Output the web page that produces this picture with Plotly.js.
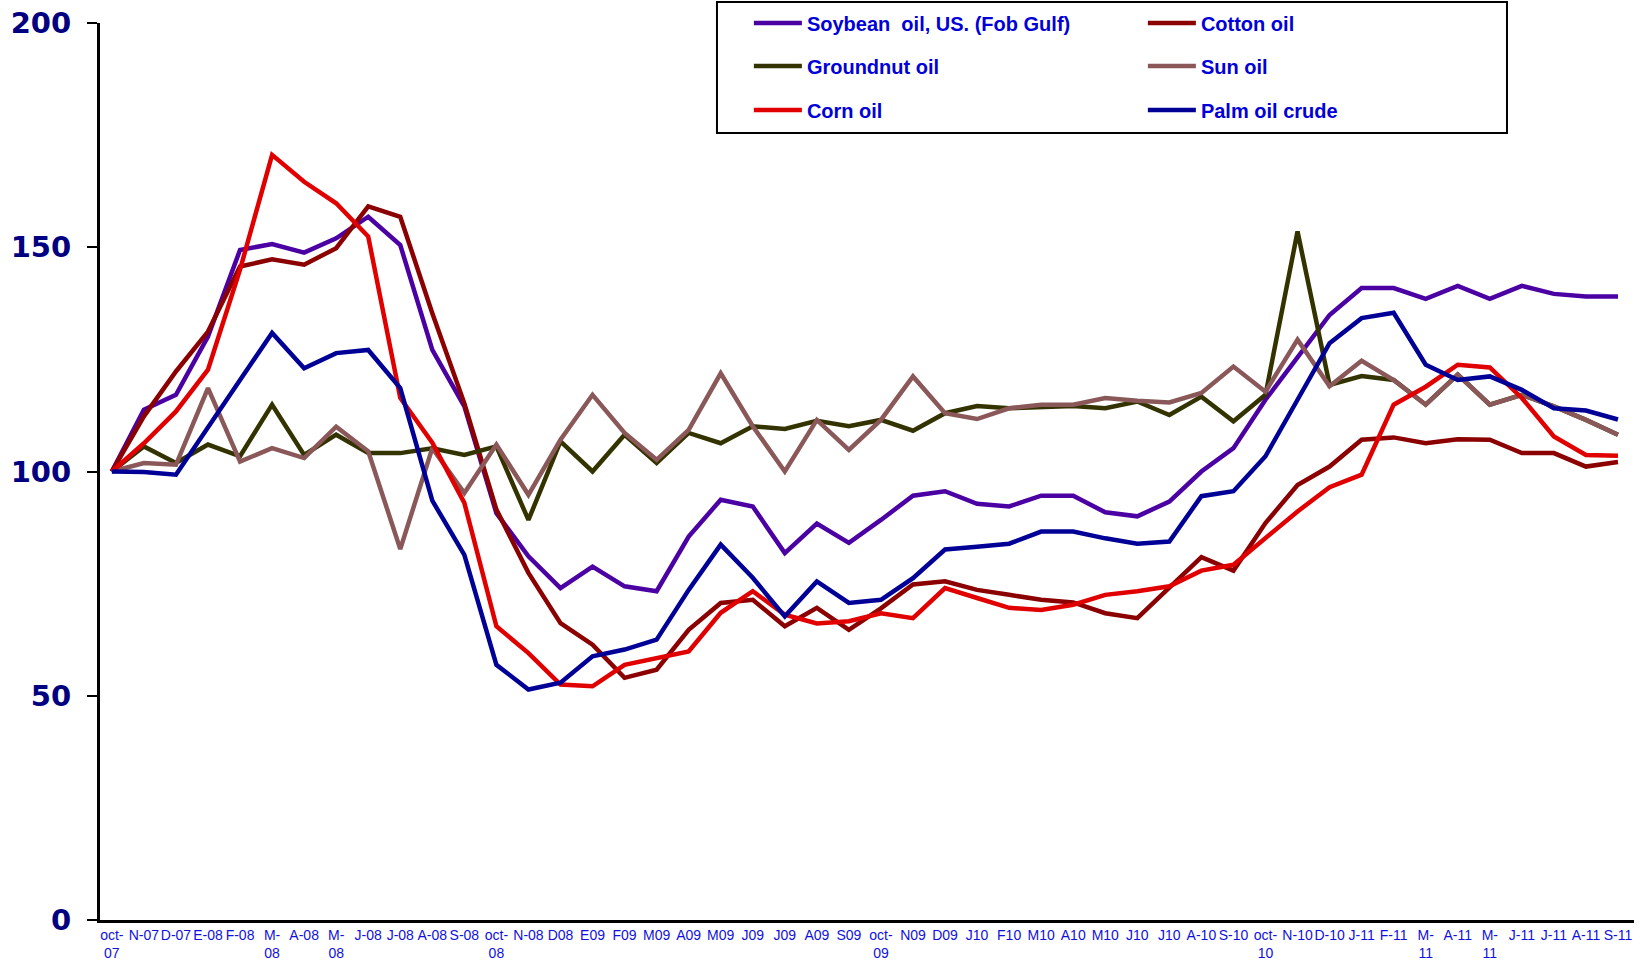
<!DOCTYPE html>
<html>
<head>
<meta charset="utf-8">
<script src="https://cdn.plot.ly/plotly-3.0.1.min.js"></script>
<style>
  html, body { margin: 0; padding: 0; background: #ffffff; }
  #chart { width: 1644px; height: 960px; }
</style>
</head>
<body>
<div id="chart"></div>
<script>
// Month labels (Oct 2007 – Sep 2011), as printed on the axis
const monthLabels = [
  "oct-<br>07", "N-07", "D-07", "E-08", "F-08", "M-<br>08", "A-08", "M-<br>08",
  "J-08", "J-08", "A-08", "S-08", "oct-<br>08", "N-08", "D08", "E09",
  "F09", "M09", "A09", "M09", "J09", "J09", "A09", "S09",
  "oct-<br>09", "N09", "D09", "J10", "F10", "M10", "A10", "M10",
  "J10", "J10", "A-10", "S-10", "oct-<br>10", "N-10", "D-10", "J-11",
  "F-11", "M-<br>11", "A-11", "M-<br>11", "J-11", "J-11", "A-11", "S-11"
];

const soybean = [100, 113.8, 117.1, 130.1, 149.4, 150.7, 148.8, 152, 156.8, 150.5, 127.1, 114.5,
  90.7, 81.1, 74, 78.8, 74.4, 73.3, 85.5, 93.7, 92.2, 81.8, 88.4, 84.1,
  89.2, 94.6, 95.6, 92.8, 92.2, 94.6, 94.6, 90.9, 90, 93.3, 100, 105.2,
  116, 125.6, 134.9, 140.9, 140.9, 138.5, 141.4, 138.5, 141.4, 139.6, 139, 139];

const cotton = [100, 112.3, 122.3, 131.2, 145.7, 147.3, 146.1, 149.8, 159.1, 156.8, 135.3, 115.2,
  91.5, 77.4, 66.2, 61.4, 54, 55.8, 64.7, 70.7, 71.4, 65.5, 69.6, 64.7,
  69.5, 74.8, 75.5, 73.6, 72.5, 71.4, 70.8, 68.4, 67.3, 74, 80.9, 77.9,
  88.5, 97, 101.1, 107.1, 107.6, 106.3, 107.2, 107.1, 104.1, 104.1, 101.1, 102.1];

const groundnut = [100, 105.6, 101.9, 106, 103.4, 114.9, 103.7, 108.2, 104.1, 104.1, 105.2, 103.7,
  105.6, 89.2, 106.7, 100, 108.2, 101.9, 108.6, 106.3, 110.1, 109.5, 111.3, 110.1,
  111.5, 109.1, 113, 114.6, 114.1, 114.3, 114.6, 114.1, 115.6, 112.6, 116.7, 111.2,
  117.1, 153.5, 119.3, 121.3, 120.4, 114.9, 121.6, 114.9, 117.1, 114.5, 111.5, 108.2];

const sunOil = [100, 101.9, 101.5, 118.6, 102.2, 105.2, 103, 110, 104.5, 82.7, 105.2, 95.2,
  106, 94.8, 107.1, 117.1, 108.6, 102.6, 109.3, 121.9, 110.1, 100, 111.5, 104.8,
  111.5, 121.2, 113, 111.7, 114.1, 114.9, 114.9, 116.4, 115.8, 115.4, 117.5, 123.4,
  117.8, 129.4, 119, 124.7, 120.4, 114.9, 121.6, 114.9, 117.1, 114.5, 111.5, 108.2];

const cornOil = [100, 106.3, 113.4, 122.7, 145, 170.6, 164.6, 159.8, 152.4, 116.4, 106.4, 93,
  65.5, 59.5, 52.5, 52.1, 56.9, 58.4, 59.9, 68.5, 73.3, 68.1, 66.1, 66.6,
  68.4, 67.3, 74, 71.8, 69.6, 69.1, 70.3, 72.5, 73.3, 74.4, 77.9, 79.2,
  85, 91.1, 96.5, 99.3, 114.9, 118.9, 123.8, 123.2, 116.4, 107.8, 103.7, 103.5];

const palmOil = [100, 99.9, 99.3, 110, 120.4, 130.9, 123, 126.4, 127.1, 118.6, 93.5, 81.4,
  56.9, 51.4, 52.9, 58.8, 60.3, 62.5, 73.6, 83.7, 76.3, 67.7, 75.5, 70.7,
  71.4, 76.2, 82.6, 83.2, 83.9, 86.6, 86.6, 85.1, 83.9, 84.4, 94.5, 95.6,
  103.4, 116, 128.6, 134.2, 135.4, 123.8, 120.4, 121.2, 118.2, 114.1, 113.6, 111.6];

const seriesNames = ["Soybean  oil, US. (Fob Gulf)", "Cotton oil", "Groundnut oil", "Sun oil", "Corn oil", "Palm oil crude"];
const seriesValues = [soybean, cotton, groundnut, sunOil, cornOil, palmOil];
const seriesColors = ["#4B00A3", "#8B0000", "#333300", "#8A5858", "#E00000", "#000096"];
const seriesLegends = ["legend", "legend", "legend2", "legend2", "legend3", "legend3"];

const xIdx = monthLabels.map((_, i) => i);

const traces = seriesValues.map((vals, k) => ({
  type: "scatter",
  mode: "lines",
  x: xIdx,
  y: vals,
  name: seriesNames[k],
  legend: seriesLegends[k],
  line: { color: seriesColors[k], width: 4.5 },
  hoverinfo: "x+y+name"
}));

const legendFont = { family: "Liberation Sans, Arial, sans-serif", size: 20, color: "#0000D8", weight: "bold" };
function legendCfg(y) {
  return {
    orientation: "h",
    x: 0.423, xanchor: "left",
    y: y, yanchor: "middle",
    entrywidth: 331, entrywidthmode: "pixels",
    itemwidth: 48,
    bgcolor: "rgba(0,0,0,0)",
    borderwidth: 0,
    font: legendFont,
    traceorder: "normal",
    itemclick: false, itemdoubleclick: false
  };
}

const layout = {
  width: 1644,
  height: 960,
  paper_bgcolor: "#ffffff",
  plot_bgcolor: "#ffffff",
  margin: { l: 100, r: 10, t: 23, b: 40, autoexpand: false },
  showlegend: true,
  legend: legendCfg(1.0),
  legend2: legendCfg(0.952),
  legend3: legendCfg(0.903),
  xaxis: {
    range: [-0.37, 47.5],
    tickmode: "array",
    tickvals: xIdx,
    ticktext: monthLabels,
    tickangle: 0,
    showgrid: false,
    zeroline: false,
    showline: true,
    linecolor: "#000000",
    linewidth: 3,
    ticks: "",
    tickfont: { family: "Liberation Sans, Arial, sans-serif", size: 14, color: "#1010E0" }
  },
  yaxis: {
    range: [0, 200],
    tickmode: "linear",
    tick0: 0,
    dtick: 50,
    showgrid: false,
    zeroline: false,
    showline: true,
    linecolor: "#000000",
    linewidth: 3,
    ticks: "outside",
    ticklen: 10,
    tickwidth: 2,
    tickcolor: "#000000",
    ticklabelstandoff: 10,
    tickfont: { family: "DejaVu Sans, Verdana, sans-serif", size: 29, color: "#000080", weight: "bold" }
  },
  shapes: [{
    type: "rect",
    xref: "paper", yref: "paper",
    x0: 0.4022, x1: 0.9172, y0: 0.8774, y1: 1.0234,
    line: { color: "#000000", width: 2 },
    fillcolor: "rgba(0,0,0,0)",
    layer: "above"
  }]
};

Plotly.newPlot("chart", traces, layout, { staticPlot: true, displayModeBar: false });
</script>
</body>
</html>
